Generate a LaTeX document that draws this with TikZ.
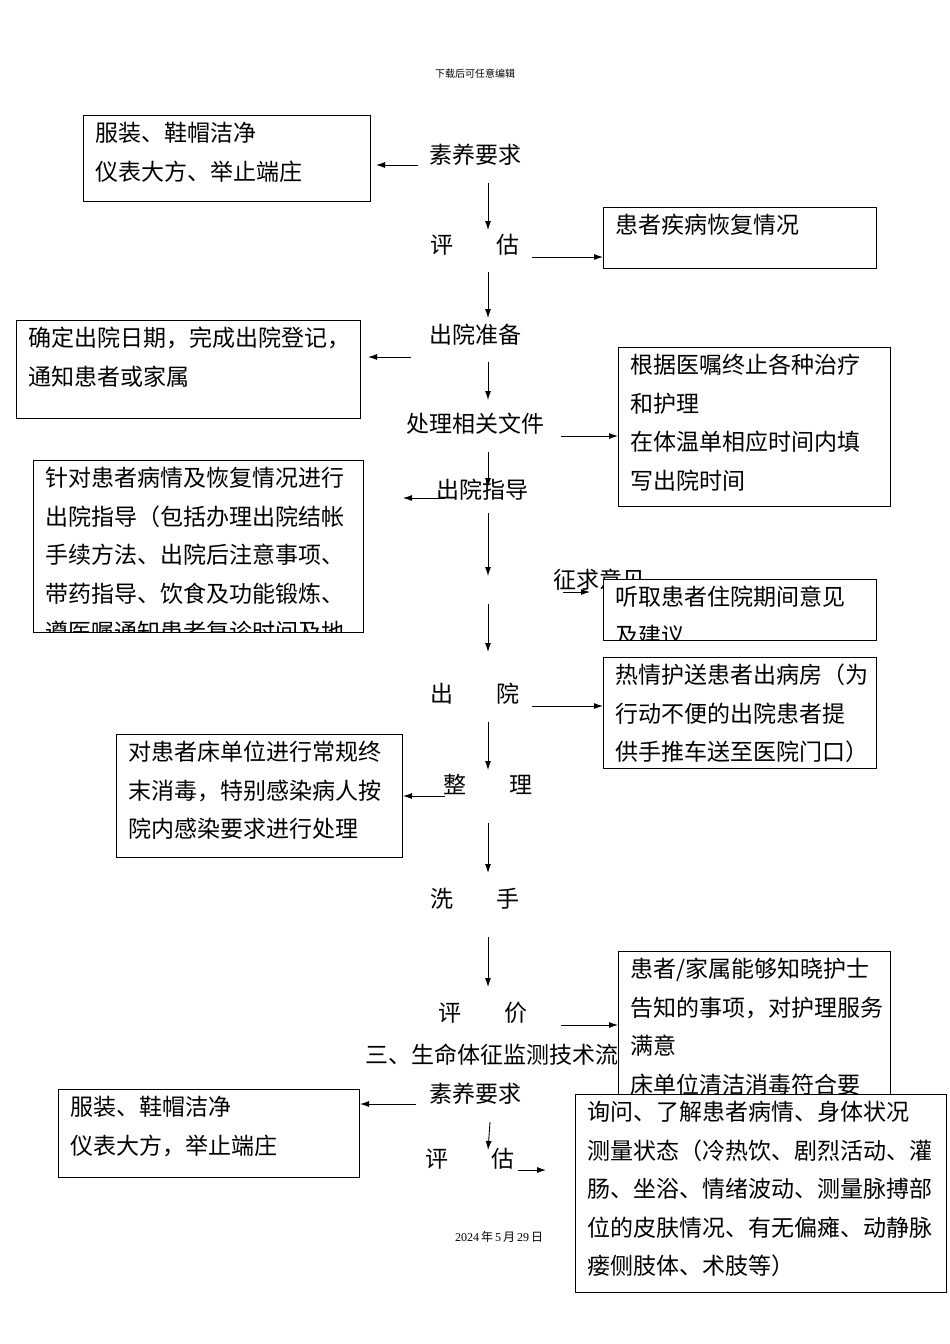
\documentclass[tikz,border=0pt]{standalone}
\usepackage{fontspec}
\usetikzlibrary{arrows.meta}
\setmainfont{Liberation Serif}
\newfontfamily\cjk{Noto Sans CJK SC}
\begin{document}
\begin{tikzpicture}[x=1pt,y=-1pt,
  lbl/.style={font=\cjk\fontsize{23}{38.5}\selectfont,inner sep=0pt},
  txt/.style={font=\cjk\fontsize{23}{38.5}\selectfont,inner sep=0pt,anchor=north west,align=left},
  bx/.style={draw=black,line width=0.9pt,fill=white},
  arr/.style={-{Latex[length=9pt,width=6pt]},line width=0.9pt}]
\useasboundingbox (0,0) rectangle (950,1344);
\node[font=\cjk\fontsize{10}{12}\selectfont] (hd) at (475,74) {下载后可任意编辑};
\node[font=\fontsize{12}{14}\selectfont] (ft) at (499,1237) {2024\,{\cjk 年}\,5\,{\cjk 月}\,29\,{\cjk 日}};
\newcommand{\mybox}[6]{%
  \draw[bx] (#2,#3) rectangle (#4,#5);
  \begin{scope}\clip (#2,#3) rectangle (#4,#5);
  \node[txt] (#1) at ({#2+12},{#3+7}) {#6};
  \end{scope}
  \draw[draw=black,line width=0.9pt] (#2,#3) rectangle (#4,#5);}
\node[lbl] (s1) at (475,155) {素养要求};
\node[lbl] (p1) at (475,245) {评\hspace{1.9em}估};
\node[lbl] (s2) at (475,335) {出院准备};
\node[lbl] (s3) at (475,424) {处理相关文件};
\node[lbl] (s6) at (475,694) {出\hspace{1.9em}院};
\node[lbl] (s7) at (488,784) {整\hspace{1.9em}理};
\node[lbl] (s8) at (475,899) {洗\hspace{1.9em}手};
\node[lbl] (s9) at (483,1013) {评\hspace{1.9em}价};
\node[lbl,anchor=west] (t3) at (365,1055) {三、生命体征监测技术流程};
\node[lbl] (s10) at (475,1094) {素养要求};
\node[lbl] (s11) at (470,1159) {评\hspace{1.9em}估};
\node[lbl,anchor=west] (zq) at (553,580) {征求意见};
\mybox{b1}{83}{115}{370}{201}{服装、鞋帽洁净\\仪表大方、举止端庄}
\mybox{b2}{603}{207}{876}{268}{患者疾病恢复情况}
\mybox{b3}{16}{320}{360}{418}{确定出院日期，完成出院登记，\\通知患者或家属}
\mybox{b4}{618}{347}{890}{506}{根据医嘱终止各种治疗\\和护理\\在体温单相应时间内填\\写出院时间}
\mybox{b5}{33}{460}{363}{632}{针对患者病情及恢复情况进行\\出院指导（包括办理出院结帐\\手续方法、出院后注意事项、\\带药指导、饮食及功能锻炼、\\遵医嘱通知患者复诊时间及地}
\mybox{b6}{603}{579}{876}{640}{听取患者住院期间意见\\及建议}
\mybox{b7}{603}{657}{876}{768}{热情护送患者出病房（为\\行动不便的出院患者提\\供手推车送至医院门口）}
\mybox{b8}{116}{734}{402}{857}{对患者床单位进行常规终\\末消毒，特别感染病人按\\院内感染要求进行处理}
\mybox{b9}{618}{951}{890}{1100}{患者/家属能够知晓护士\\告知的事项，对护理服务\\满意\\床单位清洁消毒符合要}
\mybox{b11}{58}{1089}{359}{1177}{服装、鞋帽洁净\\仪表大方，举止端庄}
\mybox{b10}{575}{1094}{946}{1292}{询问、了解患者病情、身体状况\\测量状态（冷热饮、剧烈活动、灌\\肠、坐浴、情绪波动、测量脉搏部\\位的皮肤情况、有无偏瘫、动静脉\\瘘侧肢体、术肢等）}
\node[lbl] (s4) at (482,490) {出院指导};
\draw[arr] (418,165) -- (376,165);
\draw[arr] (488,183) -- (488,230);
\draw[arr] (532,257) -- (603,257);
\draw[arr] (488,272) -- (488,318);
\draw[arr] (411,357) -- (368,357);
\draw[arr] (488,362) -- (488,400);
\draw[arr] (561,436) -- (618,436);
\draw[arr] (488,452) -- (488,487);
\draw[arr] (445,498) -- (403,498);
\draw[arr] (488,513) -- (488,576);
\draw[arr] (563,592) -- (590,592);
\draw[arr] (488,604) -- (488,652);
\draw[arr] (532,706) -- (603,706);
\draw[arr] (488,722) -- (488,770);
\draw[arr] (445,796) -- (403,796);
\draw[arr] (488,823) -- (488,873);
\draw[arr] (488,937) -- (488,987);
\draw[arr] (561,1025) -- (618,1025);
\draw[arr] (416,1104) -- (360,1104);
\draw[arr] (490,1122) -- (488,1150);
\draw[arr] (518,1170) -- (546,1170);
\end{tikzpicture}
\end{document}
